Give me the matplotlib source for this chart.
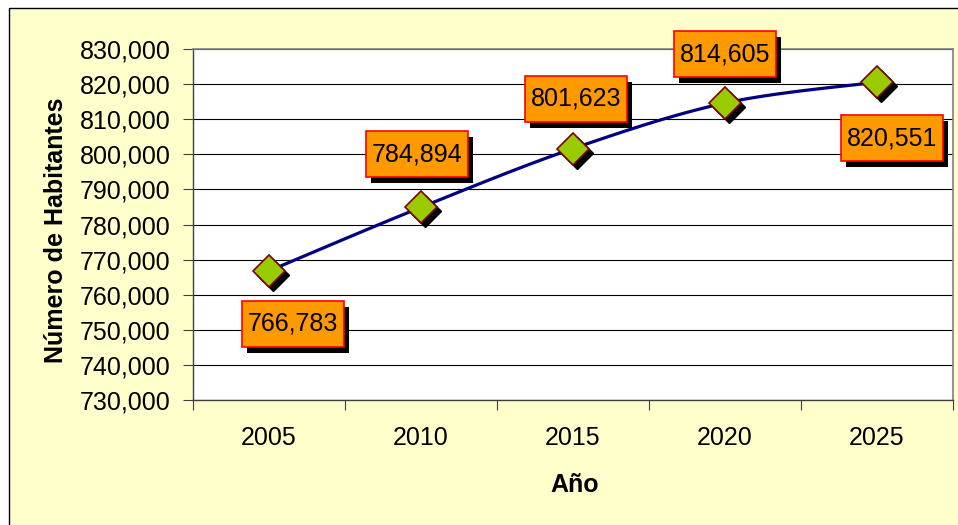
import matplotlib
matplotlib.use("Agg")
import matplotlib.pyplot as plt
import matplotlib.transforms as mtransforms
import matplotlib.patheffects as pe
from matplotlib.patches import Rectangle
from matplotlib.path import Path
from matplotlib.ticker import FuncFormatter
import numpy as np

plt.rcParams['font.family'] = ['Liberation Sans', 'DejaVu Sans']

# data
years = ['2005', '2010', '2015', '2020', '2025']
poblacion = [766783, 784894, 801623, 814605, 820551]
# label box offsets from each point, in pixels
label_dx = [24, -4, 3, 0, 15]
label_dy = [-53, 53, 50, 49, -56]

y_ticks = list(range(730000, 830001, 10000))

W, H = 958, 525
fig = plt.figure(figsize=(W / 100, H / 100), dpi=100)
fig.patch.set_facecolor('white')

# outer chart area (yellow with black border, cut off right/bottom)
fig.patches.append(Rectangle((8.5 / W, -0.05), 1.1, (H - 7.5) / H + 0.05,
                             transform=fig.transFigure, facecolor='#FFFFCC',
                             edgecolor='black', linewidth=1.0, zorder=-5))

ax = fig.add_axes([193 / W, (H - 400) / H, 760 / W, 351 / H])
ax.set_facecolor('white')

x = np.arange(len(years))


def smooth(xs, ys, n=30):
    # bezier smoothing like the spreadsheet "smoothed line"
    xs = np.asarray(xs, float)
    ys = np.asarray(ys, float)
    px = np.concatenate([[xs[0]], xs, [xs[-1]]])
    py = np.concatenate([[ys[0]], ys, [ys[-1]]])
    out_x, out_y = [], []
    t = np.linspace(0, 1, n)
    for i in range(1, len(px) - 2):
        p0 = np.array([px[i], py[i]])
        p3 = np.array([px[i + 1], py[i + 1]])
        c1 = p0 + (np.array([px[i + 1], py[i + 1]]) - np.array([px[i - 1], py[i - 1]])) / 6
        c2 = p3 - (np.array([px[i + 2], py[i + 2]]) - np.array([px[i], py[i]])) / 6
        b = ((1 - t) ** 3)[:, None] * p0 + (3 * (1 - t) ** 2 * t)[:, None] * c1 \
            + (3 * (1 - t) * t ** 2)[:, None] * c2 + (t ** 3)[:, None] * p3
        out_x.extend(b[:, 0])
        out_y.extend(b[:, 1])
    return out_x, out_y


sx, sy = smooth(x, poblacion)
ax.plot(sx, sy, color='#000080', linewidth=2.3, zorder=3, solid_capstyle='round')

shadow = mtransforms.offset_copy(ax.transData, fig=fig, x=4, y=-4, units='dots')
ax.plot(x, poblacion, linestyle='none', marker='D', markersize=16,
        color='black', markeredgecolor='black', transform=shadow, zorder=4)
ax.plot(x, poblacion, linestyle='none', marker='D', markersize=16,
        markerfacecolor='#99CC00', markeredgecolor='#800000',
        markeredgewidth=1.2, zorder=5)


def label_box(x0, y0, width, height, mutation_size):
    px = 0.24 * mutation_size
    py = 0.44 * mutation_size
    return Path.unit_rectangle().transformed(
        mtransforms.Affine2D().scale(width + 2 * px, height + 2 * py)
        .translate(x0 - px, y0 - py))


for i, v in enumerate(poblacion):
    ann = ax.annotate(f'{v:,}', xy=(i, v), xytext=(label_dx[i], label_dy[i]),
                      textcoords='offset pixels', ha='center', va='center',
                      fontsize=18, color='black',
                      bbox=dict(boxstyle=label_box, facecolor='#FF9900',
                                edgecolor='#FF0000', linewidth=1.2), zorder=7)
    ann.get_bbox_patch().set_path_effects([
        pe.SimplePatchShadow(offset=(3.6, -4.3), shadow_rgbFace='black', alpha=1.0),
        pe.Normal()])

ax.set_xlim(-0.5, len(years) - 0.5)
ax.set_ylim(730000, 830000)
ax.set_yticks(y_ticks)
ax.yaxis.set_major_formatter(FuncFormatter(lambda v, p: f'{int(v):,}'))
ax.yaxis.grid(True, color='black', linewidth=0.8)
ax.set_axisbelow(True)

ax.set_xticks(np.arange(-0.5, len(years), 1.0))
ax.set_xticklabels([])
ax.set_xticks(x, minor=True)
ax.set_xticklabels(years, minor=True)
ax.tick_params(axis='x', which='minor', length=0, pad=19, labelsize=18)
ax.tick_params(axis='x', which='major', length=7, direction='out', color='#404040')
ax.tick_params(axis='y', length=7, direction='out', pad=9, labelsize=18, color='#404040')

for side in ['top', 'right']:
    ax.spines[side].set_color('#808080')
    ax.spines[side].set_linewidth(1.2)
for side in ['left', 'bottom']:
    ax.spines[side].set_color('#404040')
    ax.spines[side].set_linewidth(1.0)

fig.text(575 / W, 1 - 485 / H, 'Año', ha='center', va='center',
         fontsize=18, fontweight='bold')
fig.text(56 / W, 1 - 230 / H, 'Número de Habitantes', ha='center', va='center',
         rotation=90, fontsize=18, fontweight='bold')

fig.savefig('out.png', dpi=100)
